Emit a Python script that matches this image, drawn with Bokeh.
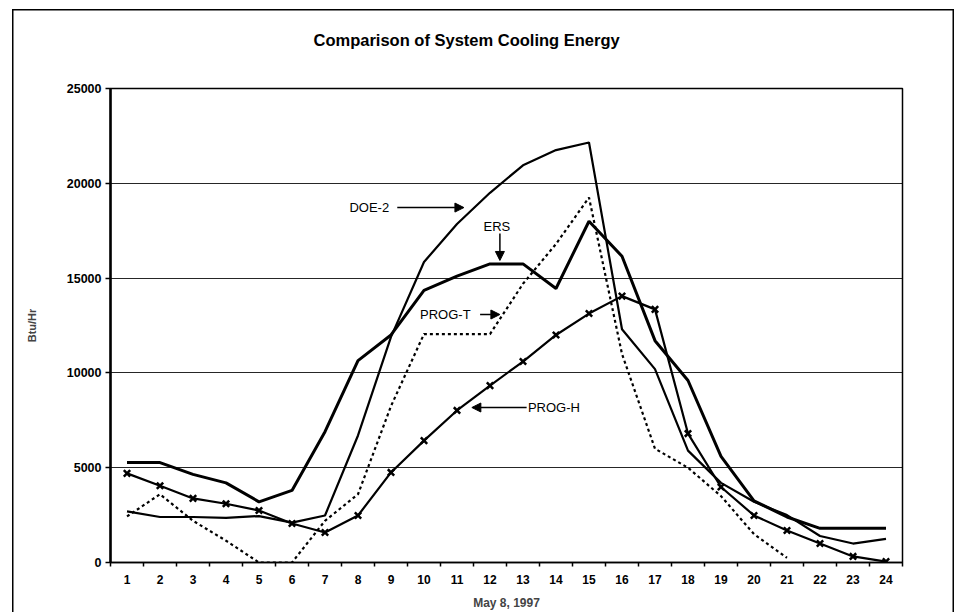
from bokeh.plotting import figure
from bokeh.models import Range1d, FixedTicker, Label, Arrow, NormalHead, ColumnDataSource
from bokeh.embed import file_html
from bokeh.resources import INLINE

nan = float("nan")

hours = list(range(1, 25))
hour_labels = [str(h) for h in hours]
y_ticks = [0, 5000, 10000, 15000, 20000, 25000]

doe2 = [2700, 2400, 2400, 2350, 2450, 2100, 2480, 6700, 11900, 15850, 17850, 19500,
        20950, 21750, 22150, 12300, 10200, 5900, 4200, 3200, 2500, 1400, 1000, 1250]
ers = [5270, 5270, 4650, 4200, 3200, 3800, 6900, 10650, 12000, 14350, 15100, 15750,
       15750, 14450, 18000, 16150, 11700, 9600, 5600, 3250, 2400, 1800, 1800, 1800]
prog_t = [2430, 3600, 2200, 1150, 0, 0, 2200, 3600, 8250, 12050, 12050, 12050,
          14700, 16800, 19250, 11000, 6000, 5000, 3500, 1500, 250, nan, nan, nan]
prog_h = [4700, 4050, 3380, 3100, 2740, 2060, 1580, 2480, 4750, 6430, 8020, 9330,
          10600, 12000, 13130, 14050, 13350, 6800, 3980, 2480, 1690, 1000, 320, 50]

FONT = "Liberation Sans"

p = figure(frame_width=792, frame_height=474,
           min_border_left=98, min_border_right=52, min_border_top=96, min_border_bottom=45,
           x_range=Range1d(0.5, 24.5), y_range=Range1d(0, 25000),
           title="Comparison of System Cooling Energy",
           output_backend="svg", toolbar_location=None)
p.margin = (-8, 0, 0, 12)
p.styles = {"box-shadow": ("inset 0 17px 0 0 white, inset 0 18.5px 0 0 black, "
                           "inset 1.5px 0 0 0 black, inset -1.5px 0 0 0 black")}
p.background_fill_color = "white"
p.border_fill_color = None
p.outline_line_color = "black"
p.outline_line_width = 1.5

p.title.align = "left"
p.title.vertical_align = "top"
p.title.offset = 203
p.title.standoff = 76
p.title.text_font = FONT
p.title.text_font_style = "bold"
p.title.text_font_size = "16.5px"
p.title.text_color = "black"

# axes
p.xaxis.ticker = FixedTicker(ticks=hours, minor_ticks=[h + 0.5 for h in range(0, 25)])
p.xaxis.major_label_overrides = {h: s for h, s in zip(hours, hour_labels)}
p.xaxis.major_tick_out = 0
p.xaxis.major_tick_in = 0
p.xaxis.minor_tick_out = 4
p.xaxis.minor_tick_in = 0
p.xaxis.minor_tick_line_color = "black"
p.xaxis.minor_tick_line_width = 1.5
p.xaxis.axis_line_width = 1.5
p.xaxis.axis_line_color = "black"
p.xaxis.major_label_standoff = 8
p.xaxis.major_label_text_font = FONT
p.xaxis.major_label_text_font_style = "bold"
p.xaxis.major_label_text_font_size = "12px"
p.xaxis.major_label_text_color = "black"
p.xaxis.axis_label = "May 8, 1997"
p.xaxis.axis_label_text_font = FONT
p.xaxis.axis_label_text_font_style = "bold"
p.xaxis.axis_label_text_font_size = "12px"
p.xaxis.axis_label_standoff = 9

p.yaxis.ticker = FixedTicker(ticks=y_ticks, minor_ticks=[])
p.yaxis.major_label_overrides = {v: str(v) for v in y_ticks}
p.yaxis.major_tick_out = 5
p.yaxis.major_tick_in = 0
p.yaxis.major_tick_line_width = 1.5
p.yaxis.major_tick_line_color = "black"
p.yaxis.axis_line_width = 2.5
p.yaxis.axis_line_color = "black"
p.yaxis.major_label_standoff = 4
p.yaxis.major_label_text_font = FONT
p.yaxis.major_label_text_font_style = "bold"
p.yaxis.major_label_text_font_size = "12.5px"
p.yaxis.major_label_text_color = "black"
p.yaxis.axis_label = "Btu/Hr"
p.yaxis.axis_label_text_font = FONT
p.yaxis.axis_label_text_font_style = "bold"
p.yaxis.axis_label_text_font_size = "11px"
p.yaxis.axis_label_standoff = 26

p.xgrid.visible = False
p.ygrid.ticker = FixedTicker(ticks=y_ticks)
p.ygrid.grid_line_color = "black"
p.ygrid.grid_line_width = 1.2
p.ygrid.grid_line_alpha = 0.85

src = ColumnDataSource(dict(x=hours, doe2=doe2, ers=ers, prog_t=prog_t, prog_h=prog_h))

p.line("x", "prog_t", source=src, line_color="black", line_width=2.2, line_dash="3 3")
p.line("x", "doe2", source=src, line_color="black", line_width=2.2)
p.line("x", "ers", source=src, line_color="black", line_width=3)
p.line("x", "prog_h", source=src, line_color="black", line_width=2.2)
p.scatter("x", "prog_h", source=src, marker="x", size=9, line_color="black", line_width=2.5)

# annotations
def ann(x, y, t, align="left"):
    p.add_layout(Label(x=x, y=y, text=t, text_align=align, text_baseline="middle",
                       text_font=FONT, text_font_size="13px", text_color="black"))

def arrow(x0, y0, x1, y1):
    p.add_layout(Arrow(end=NormalHead(size=9, fill_color="black", line_color="black"),
                       x_start=x0, y_start=y0, x_end=x1, y_end=y1,
                       line_color="black", line_width=1.5))

ann(7.74, 18720, "DOE-2")
arrow(9.19, 18720, 11.21, 18720)
ann(12.21, 17720, "ERS", "center")
arrow(12.3, 17350, 12.3, 15930)
ann(9.88, 13080, "PROG-T")
arrow(11.7, 13080, 12.3, 13080)
ann(13.15, 8175, "PROG-H")
arrow(13.11, 8175, 11.45, 8175)

open("out.html", "w").write(file_html(p, INLINE))
